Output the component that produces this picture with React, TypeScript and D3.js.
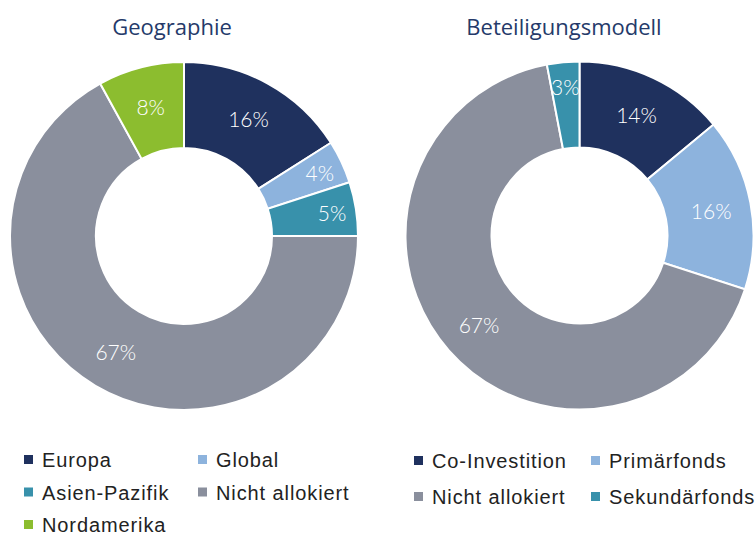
import React from "react";
import * as d3 from "d3";

const geoCategories = ["Europa", "Global", "Asien-Pazifik", "Nicht allokiert", "Nordamerika"];
const geoValues = [16, 4, 5, 67, 8];
const geoColors = ["#1F315E", "#8DB3DD", "#3891AB", "#8A8F9D", "#8CBD2F"];

const modelCategories = ["Co-Investition", "Primärfonds", "Nicht allokiert", "Sekundärfonds"];
const modelValues = [14, 16, 67, 3];
const modelColors = ["#1F315E", "#8DB3DD", "#8A8F9D", "#3891AB"];

const titles = ["Geographie", "Beteiligungsmodell"];

type DonutProps = {
  cx: number;
  cy: number;
  title: string;
  titleX: number;
  values: number[];
  colors: string[];
};

function Donut({ cx, cy, title, titleX, values, colors }: DonutProps) {
  const outer = 174;
  const inner = 88;
  const pie = d3.pie<number>().sort(null).value((d) => d);
  const arcs = pie(values);
  const arcGen = d3.arc<d3.PieArcDatum<number>>().innerRadius(inner).outerRadius(outer);
  const labelArc = d3.arc<d3.PieArcDatum<number>>().innerRadius(134).outerRadius(134);
  const smallLabelArc = d3.arc<d3.PieArcDatum<number>>().innerRadius(150).outerRadius(150);
  return (
    <g>
      <text
        x={titleX}
        y={35}
        textAnchor="middle"
        fill="#253A6A"
        style={{ fontFamily: "'Open Sans', sans-serif", fontSize: 22 }}
      >
        {title}
      </text>
      <g transform={`translate(${cx},${cy})`}>
        {arcs.map((a, i) => (
          <path key={i} d={arcGen(a) || ""} fill={colors[i]} stroke="#fff" strokeWidth={2} />
        ))}
        {arcs.map((a, i) => {
          const [lx, ly] = (a.data <= 5 ? smallLabelArc : labelArc).centroid(a);
          return (
            <text
              key={"l" + i}
              x={lx}
              y={ly}
              textAnchor="middle"
              dominantBaseline="central"
              fill="#fff"
              style={{ fontFamily: "Lato, sans-serif", fontWeight: 300, fontSize: 21 }}
            >
              {a.data}%
            </text>
          );
        })}
      </g>
    </g>
  );
}

type LegendProps = {
  items: string[];
  colors: string[];
  x0: number;
  colGap: number;
  y0: number;
  rowGap: number;
};

function Legend({ items, colors, x0, colGap, y0, rowGap }: LegendProps) {
  return (
    <g>
      {items.map((name, i) => {
        const col = i % 2;
        const row = Math.floor(i / 2);
        const x = x0 + col * colGap;
        const y = y0 + row * rowGap;
        return (
          <g key={i} transform={`translate(${x},${y})`}>
            <rect x={0} y={-5} width={9} height={9} fill={colors[i]} />
            <text
              x={18}
              y={7}
              fill="#222"
              style={{ fontFamily: "'Liberation Sans', Arial, sans-serif", fontSize: 20, letterSpacing: 0.9 }}
            >
              {name}
            </text>
          </g>
        );
      })}
    </g>
  );
}

export default function App() {
  return (
    <svg
      width={756}
      height={536}
      style={{ position: "absolute", left: 0, top: 0, background: "#fff" }}
    >
      <Donut cx={184} cy={236} title={titles[0]} titleX={172} values={geoValues} colors={geoColors} />
      <Donut cx={579.5} cy={235.5} title={titles[1]} titleX={564} values={modelValues} colors={modelColors} />
      <Legend items={geoCategories} colors={geoColors} x0={24} colGap={174} y0={460} rowGap={32.5} />
      <Legend items={modelCategories} colors={modelColors} x0={414} colGap={177} y0={461} rowGap={36} />
    </svg>
  );
}
